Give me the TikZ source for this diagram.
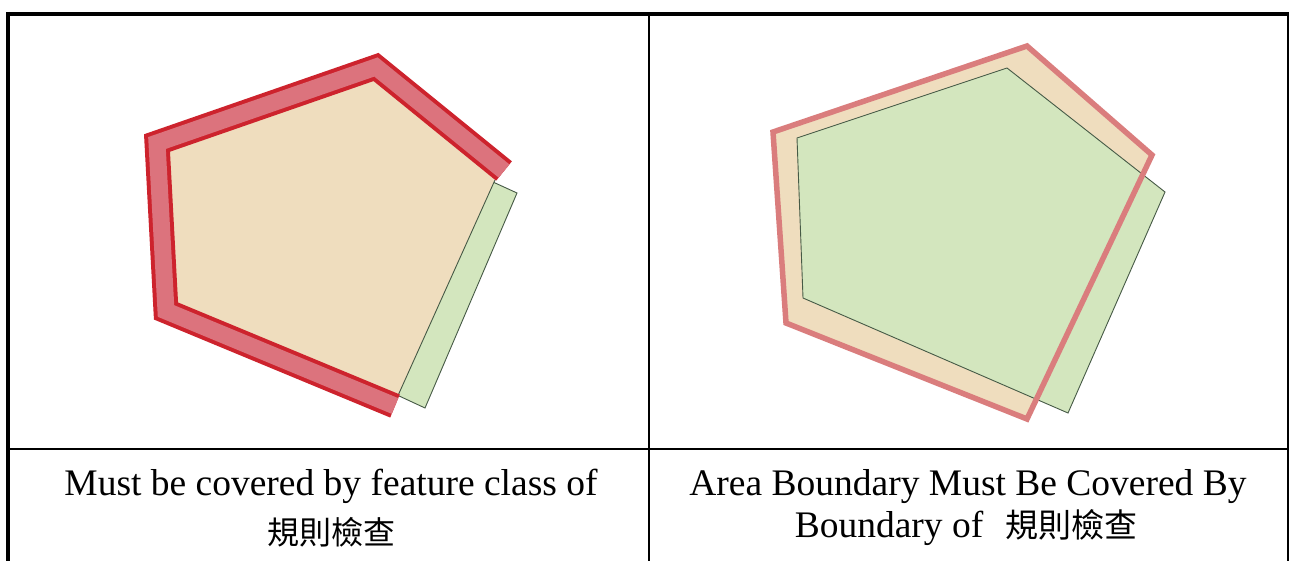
\documentclass[tikz,border=0pt]{standalone}
\usepackage{fontspec}
\setmainfont{Liberation Serif}
\newfontfamily\cjk{Noto Sans CJK TC}
\definecolor{beige}{RGB}{239,221,190}
\definecolor{lgreen}{RGB}{211,230,190}
\definecolor{dred}{RGB}{205,35,45}
\definecolor{pinkband}{RGB}{220,115,125}
\definecolor{salmon}{RGB}{218,125,125}
\definecolor{gline}{RGB}{70,90,70}
\tikzset{
  tabline/.style={black, line width=2pt},
  featfill/.style={fill=beige, draw=none},
  covfill/.style={fill=lgreen, draw=gline, line width=0.9pt, line join=miter},
  errouter/.style={draw=dred, line width=25pt, line join=miter, line cap=butt},
  errinner/.style={draw=pinkband, line width=17pt, line join=miter, line cap=butt},
  bnd/.style={draw=salmon, line width=5.5pt, line join=miter},
  cell/.style={font=\fontsize{37.5}{44}\selectfont, inner sep=0pt, anchor=base},
  cjkcell/.style={font=\fontsize{32}{38}\selectfont\cjk, inner sep=0pt, anchor=base}
}
\begin{document}
\begin{tikzpicture}[x=1pt,y=-1pt]
\useasboundingbox (0,0) rectangle (1290,561);
\fill[white] (0,0) rectangle (1290,561);

% ---------- left panel ----------
\draw[covfill] (493,182) -- (517,193) -- (425,408) -- (397,395) -- cycle;
\fill[featfill] (376,67) -- (157,143) -- (166,311) -- (396,400) -- (495,180) -- cycle;
\draw[covfill, fill=none] (495,180) -- (396,400);
\draw[errouter] (395,406) -- (166,311) -- (157,143) -- (376,67) -- (504,171);
\draw[errinner] (395,406) -- (166,311) -- (157,143) -- (376,67) -- (504,171);

% ---------- right panel ----------
\fill[featfill] (1027,46) -- (773,132) -- (786,323) -- (1027,419) -- (1152,155) -- cycle;
\draw[covfill] (1007,68) -- (797,138) -- (803,298) -- (1068,413) -- (1165,192) -- cycle;
\draw[bnd] (1027,46) -- (773,132) -- (786,323) -- (1027,419) -- (1152,155) -- cycle;

% ---------- table ----------
\draw[black, line width=4pt] (6,14) -- (1289,14);
\draw[black, line width=3.5pt] (8,12) -- (8,561);
\draw[tabline] (1287.7,13) -- (1287.7,561);
\draw[tabline] (649,14) -- (649,561);
\draw[tabline] (8,449) -- (1288,449);

% ---------- captions ----------
\node[cell] (la) at (331,495) {Must be covered by feature class of};
\node[cjkcell] (lb) at (331,544) {規則檢查};
\node[cell] (ra) at (968,495) {Area Boundary Must Be Covered By};
\node[cell] (rb) at (966,537) {Boundary of\hspace{22pt}{\fontsize{33}{38}\selectfont\cjk 規則檢查}};
\end{tikzpicture}
\end{document}
